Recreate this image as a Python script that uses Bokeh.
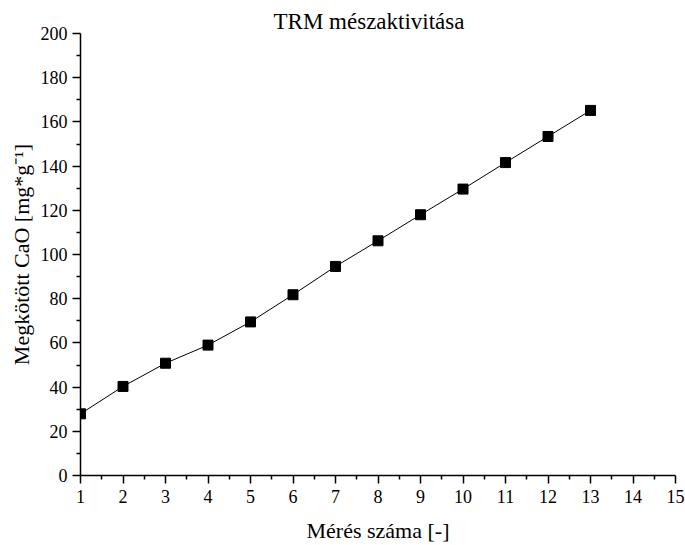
from bokeh.plotting import figure
from bokeh.models import Range1d, FixedTicker
from bokeh.embed import file_html
from bokeh.resources import INLINE

# Data
meres = [1, 2, 3, 4, 5, 6, 7, 8, 9, 10, 11, 12, 13]
megkotott_cao = [27.9, 40.3, 50.8, 59.0, 69.5, 81.8, 94.6, 106.2, 118.0, 129.6, 141.6, 153.4, 165.2]
x_ticks = list(range(1, 16))
y_ticks = list(range(0, 201, 20))

title_text = "TRM mészaktivitása"
x_label = "Mérés száma [-]"
y_label = "Megkötött CaO [mg*g⁻¹]"

FONT = "Liberation Serif"

p = figure(width=685, height=545, output_backend="svg", toolbar_location=None,
           x_range=Range1d(1, 15), y_range=Range1d(0, 200),
           min_border_left=80, min_border_right=10, min_border_top=33, min_border_bottom=70,
           title=title_text)

p.title.text_font = FONT
p.title.text_font_size = "23px"
p.title.text_font_style = "normal"
p.title.align = "left"
p.title.text_color = "black"
p.title.standoff = 0
p.title.offset = 193

p.outline_line_color = None
p.xgrid.grid_line_color = None
p.ygrid.grid_line_color = None
p.background_fill_color = "white"
p.border_fill_color = "white"

p.line(meres, megkotott_cao, line_color="black", line_width=1)
p.scatter(meres, megkotott_cao, marker="square", size=10, fill_color="black", line_color="black")

for ax, ticks in ((p.xaxis[0], x_ticks), (p.yaxis[0], y_ticks)):
    ax.ticker = FixedTicker(ticks=ticks,
                            minor_ticks=[t + (ticks[1] - ticks[0]) / 2 for t in ticks[:-1]])
    ax.axis_line_color = "black"
    ax.axis_line_width = 1.5
    ax.major_tick_line_color = "black"
    ax.major_tick_line_width = 1.5
    ax.minor_tick_line_color = "black"
    ax.minor_tick_line_width = 1.5
    ax.major_tick_out = 8
    ax.major_tick_in = 0
    ax.minor_tick_out = 4
    ax.minor_tick_in = 0
    ax.major_label_text_font = FONT
    ax.major_label_text_font_size = "18px"
    ax.major_label_text_color = "black"
    ax.axis_label_text_font = FONT
    ax.axis_label_text_font_size = "22px"
    ax.axis_label_text_font_style = "normal"
    ax.axis_label_text_color = "black"

p.xaxis[0].axis_label = x_label
p.yaxis[0].axis_label = y_label
p.xaxis[0].major_label_standoff = 6
p.yaxis[0].major_label_standoff = 5
p.xaxis[0].axis_label_standoff = 12
p.yaxis[0].axis_label_standoff = 4

open("out.html", "w").write(file_html(p, INLINE))
